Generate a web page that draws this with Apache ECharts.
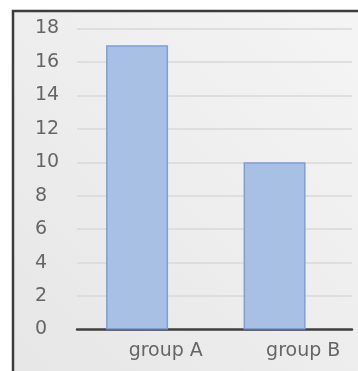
<!DOCTYPE html>
<html>
<head>
<meta charset="utf-8">
<script src="https://cdn.jsdelivr.net/npm/echarts@6/dist/echarts.min.js"></script>
<style>
  html, body { margin: 0; padding: 0; background: #fff; }
  #main { width: 358px; height: 371px; }
</style>
</head>
<body>
<div id="main"></div>
<script>
// 数据
var categories = ['group A', 'group B'];
var values = [17, 10];
var yMin = 0, yMax = 18, yStep = 2;

var myChart = echarts.init(document.getElementById('main'));

var option = {
  backgroundColor: '#ffffff',
  animation: false,
  // 外框 + 浅灰背景
  graphic: [{
    type: 'rect',
    z: -10,
    shape: { x: 13, y: 11, width: 420, height: 420 },
    style: {
      fill: new echarts.graphic.LinearGradient(0, 1, 1, 0, [
        { offset: 0, color: '#e5e5e5' },
        { offset: 1, color: '#f6f6f6' }
      ]),
      stroke: '#3c3c3c',
      lineWidth: 2.5
    }
  }],
  grid: { left: 77, right: 6, top: 28.5, bottom: 41.5 },
  xAxis: {
    type: 'category',
    data: categories,
    axisLine: { lineStyle: { color: '#404040', width: 2.5 } },
    axisTick: { show: false },
    axisLabel: {
      color: '#666666',
      fontFamily: 'DejaVu Sans',
      fontSize: 19,
      margin: 12,
      padding: [0, 0, 0, 40]
    }
  },
  yAxis: {
    type: 'value',
    min: yMin,
    max: yMax,
    interval: yStep,
    axisLine: { show: false },
    axisTick: { show: false },
    splitLine: { lineStyle: { color: '#d8d8d8', width: 1.5 } },
    axisLabel: {
      color: '#666666',
      fontFamily: 'DejaVu Sans',
      fontSize: 19,
      align: 'left',
      margin: 42
    }
  },
  series: [{
    type: 'bar',
    data: values,
    barWidth: 62,
    barGap: '-72%',
    itemStyle: { color: '#a9c0e5', borderColor: '#7e9ed8', borderWidth: 1.5 }
  }, {
    // 占位系列，让柱子略微偏左
    type: 'bar',
    data: ['-', '-'],
    barWidth: 62,
    silent: true
  }]
};

myChart.setOption(option);
</script>
</body>
</html>
